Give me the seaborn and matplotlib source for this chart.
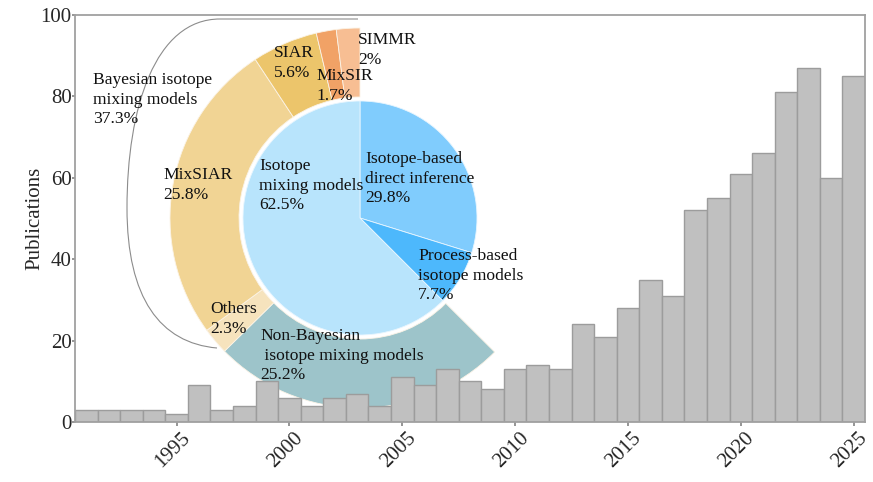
import numpy as np
import pandas as pd
import seaborn as sns
import matplotlib
matplotlib.use("Agg")
from matplotlib import pyplot as plt
from matplotlib import transforms
from matplotlib.path import Path
from matplotlib.patches import PathPatch

# publications per year
years = list(range(1991, 2026))
counts = [3, 3, 3, 3, 2, 9, 3, 4, 10, 6,
          4, 6, 7, 4, 11, 9, 13, 10, 8, 13,
          14, 13, 24, 21, 28, 35, 31, 52, 55, 61,
          66, 81, 87, 60, 85]

# inner pie: method families (%)
inner_labels = ["Isotope-based\ndirect inference\n29.8%", "Process-based\nisotope models\n7.7%",
                "Isotope\nmixing models\n62.5%"]
inner_values = [29.8, 7.7, 62.5]
inner_colors = ["#80ccfd", "#4db8fc", "#b8e4fc"]

# outer ring: split of the isotope mixing models (%), first slot left empty
outer_labels = ["", "Non-Bayesian\n isotope mixing models\n25.2%", "Others\n2.3%", "MixSIAR\n25.8%",
                "SIAR\n5.6%", "MixSIR\n1.7%", "SIMMR\n2%"]
outer_values = [37.5, 25.2, 2.3, 25.8, 5.6, 1.7, 2.0]
outer_colors = ["none", "#9dc4ca", "#f6e3bd", "#f1d494", "#ecc56b", "#f1a266", "#f7be93"]

group_label = "Bayesian isotope\nmixing models\n37.3%"

W, H = 873, 482
sns.set_theme(style="ticks")
plt.rcParams['font.family'] = ['Liberation Serif', 'DejaVu Serif']
plt.rcParams['text.color'] = '#111111'

fig = plt.figure(figsize=(W / 100, H / 100), dpi=100)
fig.patch.set_facecolor('white')

# ---- pie in pixel units, centred at (360, 218) ----
cx, cy, half = 360, 218, 260
ax_pie = fig.add_axes([(cx - half) / W, (H - cy - half) / H, 2 * half / W, 2 * half / H])
ax_pie.set_zorder(0)

ax_pie.pie(inner_values, radius=117, startangle=90, counterclock=False, colors=inner_colors,
           wedgeprops=dict(edgecolor='#e8f6ff', linewidth=0.6), frame=True)
ax_pie.pie(outer_values, radius=190, startangle=90, counterclock=False, colors=outer_colors,
           wedgeprops=dict(width=69, edgecolor='#fbf3e6', linewidth=0.6), frame=True)
ax_pie.patches[3].set_edgecolor('none')   # the empty slot
ax_pie.set_xlim(-half, half)
ax_pie.set_ylim(-half, half)
ax_pie.axis('off')

# bracket around the Bayesian part of the ring
verts = [(-2, 199), (-140, 199),
         (-205, 199), (-233, 110), (-233, 10),
         (-233, -80), (-200, -125), (-143, -130)]
codes = [Path.MOVETO, Path.LINETO,
         Path.CURVE4, Path.CURVE4, Path.CURVE4,
         Path.CURVE4, Path.CURVE4, Path.CURVE4]
ax_pie.add_patch(PathPatch(Path(verts, codes), facecolor='none', edgecolor='#8c8c8c', linewidth=0.8))

# ---- bar chart ----
ax = fig.add_axes([75 / W, 1 - 422 / H, 790 / W, 407 / H])
ax.set_zorder(1)
ax.set_facecolor('none')
df = pd.DataFrame({'year': years, 'count': counts})
sns.barplot(data=df, x='year', y='count', native_scale=True, width=1, color='#c0c0c0',
            saturation=1, edgecolor='#9c9c9c', linewidth=1.0, errorbar=None, ax=ax)
ax.set_xlim(1990.5, 2025.5)
ax.set_ylim(0, 100)
ax.set_xticks([1995, 2000, 2005, 2010, 2015, 2020, 2025])
ax.set_yticks([0, 20, 40, 60, 80, 100])
ax.tick_params(axis='x', labelsize=15, rotation=45, length=3, color='#888888', pad=2)
ax.tick_params(axis='y', labelsize=15, length=2.5, color='#888888', pad=0)
shift = transforms.ScaledTranslation(-4 / 100, 0, fig.dpi_scale_trans)
for t in ax.get_xticklabels():
    t.set_transform(t.get_transform() + shift)
ax.set_xlabel('')
ax.set_ylabel('Publications', fontsize=15, labelpad=-3)
for s in ax.spines.values():
    s.set_color('#a0a0a0')
    s.set_linewidth(1.3)

# ---- pie labels (pixel positions, top-left) ----
fs = 12.6
def label(px, py, txt):
    fig.text(px / W, 1 - py / H, txt, ha='left', va='top', fontsize=fs, linespacing=1.3, zorder=5)

label(93, 72, group_label)
label(163, 167, outer_labels[3])
label(274, 45, outer_labels[4])
label(316, 68, outer_labels[5])
label(358, 32, outer_labels[6])
label(210, 301, outer_labels[2])
label(260, 328, outer_labels[1])
label(259, 158, inner_labels[2])
label(365, 151, inner_labels[0])
label(418, 248, inner_labels[1])

fig.savefig('out.png', dpi=100)
